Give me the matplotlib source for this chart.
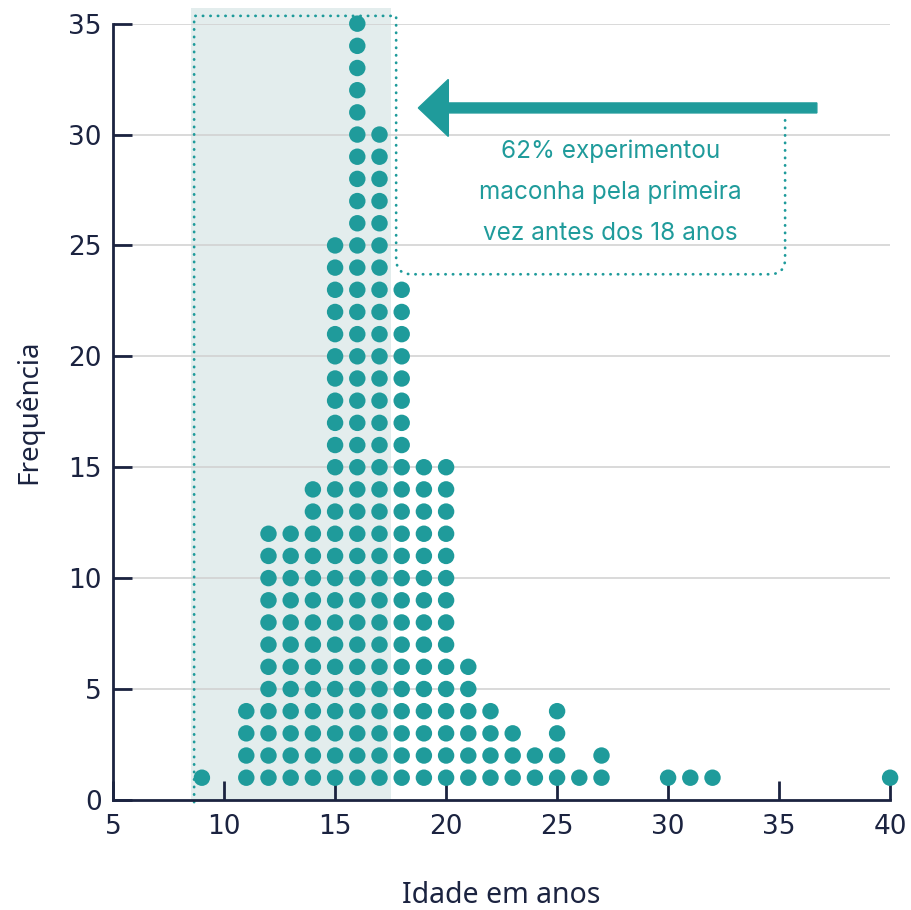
import numpy as np
import matplotlib
matplotlib.use("Agg")
import matplotlib.pyplot as plt
from matplotlib.patches import Rectangle
from matplotlib.path import Path
from matplotlib.patches import PathPatch

# Data: number of people per age of first use
ages = [9, 11, 12, 13, 14, 15, 16, 17, 18, 19, 20, 21, 22, 23, 24, 25, 26, 27, 30, 31, 32, 40]
counts = [1, 4, 12, 12, 14, 25, 35, 30, 23, 15, 15, 6, 4, 3, 2, 4, 1, 2, 1, 1, 1, 1]

x_ticks = [5, 10, 15, 20, 25, 30, 35, 40]
y_ticks = [0, 5, 10, 15, 20, 25, 30, 35]

teal = '#1f9b9b'
navy = '#1b2340'
shade = '#e3eded'

# one dot per person, stacked
dot_x = np.repeat(ages, counts)
dot_y = np.concatenate([np.arange(1, c + 1) for c in counts])

fig = plt.figure(figsize=(9.12, 9.10), dpi=100)
ax = fig.add_axes([0.124, 0.121, 0.852, 0.853])

# shaded band for ages under 18
ax.add_patch(Rectangle((8.5, 0), 9.02, 35.7, facecolor=shade, edgecolor='none', zorder=0, clip_on=False))

for y in y_ticks[1:]:
    ax.axhline(y, color='#d0d0d0', lw=1.1, zorder=1)

ax.scatter(dot_x, dot_y, s=140, color=teal, edgecolors='none', zorder=3, clip_on=False)

# dotted outline linking band to the annotation
r = 0.7
verts = [(8.65, -0.1), (8.65, 35.35), (17.75, 35.35), (17.75, 23.7 + r),
         (17.75, 23.7), (17.75 + r, 23.7), (35.27 - r, 23.7),
         (35.27, 23.7), (35.27, 23.7 + r), (35.27, 30.7)]
codes = [Path.MOVETO, Path.LINETO, Path.LINETO, Path.LINETO,
         Path.CURVE3, Path.CURVE3, Path.LINETO,
         Path.CURVE3, Path.CURVE3, Path.LINETO]
ax.add_patch(PathPatch(Path(verts, codes), facecolor='none', edgecolor=teal, lw=2,
                       linestyle=(0, (0.1, 2.6)), capstyle='round', zorder=2, clip_on=False))

ax.arrow(36.7, 31.2, -17.95, 0, width=0.45, head_width=2.57, head_length=1.35,
         length_includes_head=True, color=teal, zorder=4, clip_on=False)

ax.text(27.4, 27.4, '62% experimentou\nmaconha pela primeira\nvez antes dos 18 anos',
        ha='center', va='center', color=teal, fontsize=17.5, family='Inter', linespacing=1.95, zorder=4)

ax.set_xlim(5, 40)
ax.set_ylim(0, 35)
ax.set_xticks(x_ticks)
ax.set_yticks(y_ticks)
for s in ['top', 'right']:
    ax.spines[s].set_visible(False)
for s in ['left', 'bottom']:
    ax.spines[s].set_color(navy)
    ax.spines[s].set_linewidth(2)
ax.tick_params(direction='in', length=14, width=2, color=navy, labelcolor=navy, labelsize=19, pad=8)
ax.tick_params(axis='x', pad=10)
for lab in ax.get_xticklabels() + ax.get_yticklabels():
    lab.set_family('DejaVu Sans')

ax.set_xlabel('Idade em anos', fontsize=20.5, family='Noto Sans', color=navy, labelpad=30)
ax.set_ylabel('Frequência', fontsize=20, family='Noto Sans', color=navy, labelpad=18)

fig.savefig('out.png', dpi=100)
